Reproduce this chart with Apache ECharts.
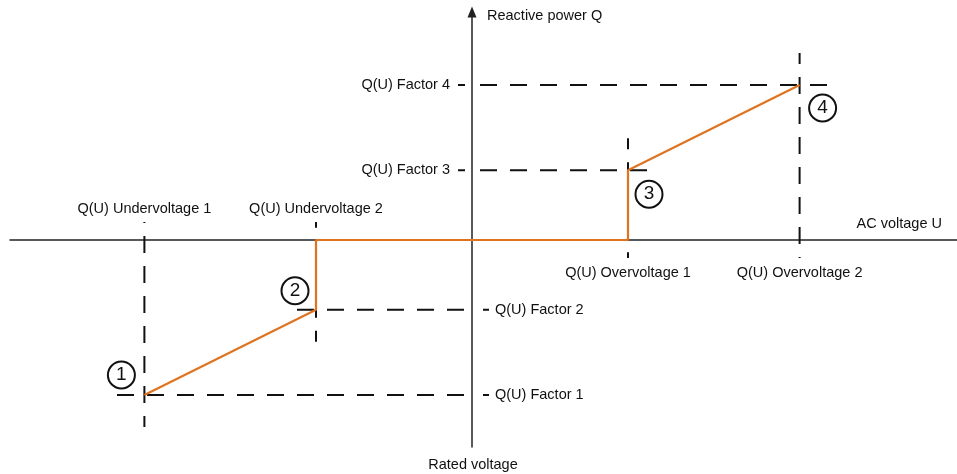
<!DOCTYPE html>
<html><head><meta charset="utf-8">
<script src="https://cdn.jsdelivr.net/npm/echarts@6/dist/echarts.min.js"></script>
<style>html,body{margin:0;padding:0;background:#fff}#chart{width:957px;height:474px}</style>
</head><body><div id="chart"></div>
<script>
// ---- data ----
const voltageLevels = [-2.1, -1.0, 1.0, 2.1];      // U thresholds (rated voltage = 0)
const factorLevels  = [-1.0, -0.45, 0.45, 1.0];     // Q factors
const voltageLabels = ['Q(U) Undervoltage 1', 'Q(U) Undervoltage 2', 'Q(U) Overvoltage 1', 'Q(U) Overvoltage 2'];
const factorLabels  = ['Q(U) Factor 1', 'Q(U) Factor 2', 'Q(U) Factor 3', 'Q(U) Factor 4'];
const pointNumbers  = ['1', '2', '3', '4'];
const xAxisName = 'AC voltage U';
const yAxisName = 'Reactive power Q';
const originName = 'Rated voltage';

// ---- layout / style constants ----
const W = 957, H = 474, gL = 10, gR = 0, gT = 12, gB = 27, ox = 472, oy = 240, pxX = 156, pxY = 155;
const xMin = -(ox - gL) / pxX, xMax = (W - gR - ox) / pxX;
const yMax = (oy - gT) / pxY, yMin = -(H - gB - oy) / pxY;
const FONT = "'Liberation Sans', Arial, sans-serif";
const TXT = '#111111', DASH = '#111111', ORANGE = '#e0731f';

// curve built from the thresholds
const curve = [
  [voltageLevels[0], factorLevels[0]],
  [voltageLevels[1], factorLevels[1]],
  [voltageLevels[1], 0],
  [voltageLevels[2], 0],
  [voltageLevels[2], factorLevels[2]],
  [voltageLevels[3], factorLevels[3]]
];

const series = [];
function dashStyle(offset) { return { color: DASH, width: 2, type: [17, 13], dashOffset: offset || 0, opacity: 1 }; }
function lineSeries(data, style, z) {
  return { type: 'line', data, symbol: 'none', silent: true, lineStyle: style, z: z || 2, animation: false };
}
voltageLevels.forEach((v, i) => {
  const f = factorLevels[i];
  const sv = Math.sign(v), sf = Math.sign(f);
  // horizontal dashed reference line from axis to point
  series.push(lineSeries([[sv * 8 / pxX, f], [v + sv * 28 / pxX, f]], dashStyle(0)));
  // vertical dashed reference line
  series.push(lineSeries([[v, f + sf * 32 / pxY], [v, -sf * 18 / pxY]], dashStyle(6)));
  // short tick beside factor label
  const tick = i < 2 ? [[11 / pxX, f], [17 / pxX, f]] : [[-14 / pxX, f], [-7 / pxX, f]];
  series.push(lineSeries(tick, { color: DASH, width: 2 }));
});

series.push(lineSeries(curve, { color: ORANGE, width: 2.2 }, 5));

// numbered circles
const circleOffsets = [[-23, -20], [-21, -19], [21, 24], [23, 23]];
series.push({
  type: 'scatter', z: 6, silent: true, animation: false,
  symbol: 'circle', symbolSize: 27,
  itemStyle: { color: '#fff', borderColor: '#111', borderWidth: 2, opacity: 1 },
  data: curve.filter((p, i) => i === 0 || i === 1 || i === 4 || i === 5).map((p, i) => ({
    value: p, symbolOffset: circleOffsets[i],
    label: { show: true, position: 'inside', formatter: pointNumbers[i], fontSize: 19, color: '#111', fontFamily: FONT }
  }))
});

// text labels
function txt(x, y, text, offset, align) {
  return { value: [x, y], label: { show: true, position: 'inside', formatter: text, offset, align: align || 'center', verticalAlign: 'middle' } };
}
const labelData = [];
voltageLevels.forEach((v, i) => labelData.push(txt(v, 0, voltageLabels[i], [0, i < 2 ? -31 : 33])));
factorLevels.forEach((f, i) => labelData.push(i < 2 ? txt(0, f, factorLabels[i], [23, 0], 'left') : txt(0, f, factorLabels[i], [-22, 0], 'right')));
labelData.push(txt(0, yMax, yAxisName, [15, 4], 'left'));
labelData.push(txt(xMax, 0, xAxisName, [-15, -16], 'right'));
labelData.push(txt(0, yMin, originName, [1, 18]));
series.push({
  type: 'scatter', z: 7, silent: true, animation: false, symbolSize: 0,
  itemStyle: { color: 'transparent', opacity: 1 },
  label: { fontSize: 14.5, color: TXT, fontFamily: FONT },
  data: labelData
});

const chart = echarts.init(document.getElementById('chart'), null, { renderer: 'canvas' });
chart.setOption({
  animation: false,
  backgroundColor: '#fff',
  grid: { left: gL, right: gR, top: gT, bottom: gB, containLabel: false },
  xAxis: {
    type: 'value', min: xMin, max: xMax,
    axisLine: { show: true, onZero: true, lineStyle: { color: '#222', width: 1.5 } },
    axisTick: { show: false }, axisLabel: { show: false }, splitLine: { show: false }
  },
  yAxis: {
    type: 'value', min: yMin, max: yMax,
    axisLine: { show: true, onZero: true, symbol: ['none', 'triangle'], symbolSize: [9, 11], lineStyle: { color: '#222', width: 1.5 } },
    axisTick: { show: false }, axisLabel: { show: false }, splitLine: { show: false }
  },
  series
});
</script></body></html>
